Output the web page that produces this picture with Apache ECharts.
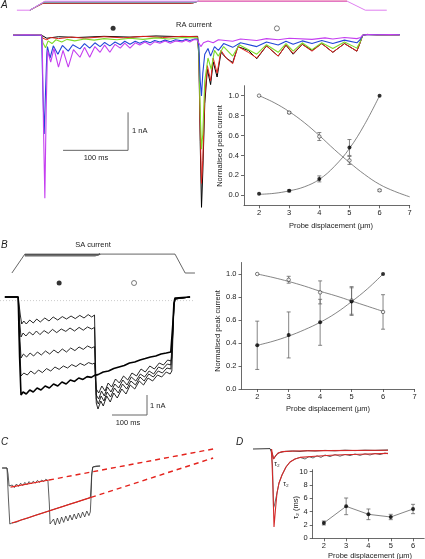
<!DOCTYPE html>
<html><head><meta charset="utf-8">
<script src="https://cdn.jsdelivr.net/npm/echarts@6/dist/echarts.min.js"></script>
<style>html,body{margin:0;padding:0;background:#fff}#c{width:425px;height:559px}</style>
</head><body><div id="c"></div>
<script>
// ---------- summary data (normalised peak current vs probe displacement) ----------
const displacement = [2, 3, 4, 5, 6];
const raOpenMean = [1.0, 0.83, 0.59, 0.35, 0.05];
const raOpenErr  = [0, 0.01, 0.04, 0.04, 0.01];
const raFillMean = [0.015, 0.045, 0.165, 0.48, 1.0];
const raFillErr  = [0, 0.01, 0.03, 0.08, 0];
const fitX7 = [2, 2.5, 3, 3.5, 4, 4.5, 5, 5.5, 6, 6.5, 7];
const fitX6 = [2, 2.5, 3, 3.5, 4, 4.5, 5, 5.5, 6];
const raOpenFit = [1.0, 0.93, 0.84, 0.73, 0.60, 0.46, 0.33, 0.21, 0.11, 0.04, -0.015];
const raFillFit = [0.01, 0.02, 0.045, 0.085, 0.16, 0.29, 0.47, 0.71, 1.0];

const saOpenMean = [1.0, 0.95, 0.84, 0.77, 0.67];
const saOpenErr  = [0, 0.03, 0.10, 0.12, 0.15];
const saFillMean = [0.38, 0.47, 0.58, 0.76, 1.0];
const saFillErr  = [0.21, 0.20, 0.20, 0.12, 0];
const saOpenFit = [1.0, 0.97, 0.935, 0.895, 0.85, 0.81, 0.765, 0.72, 0.675];
const saFillFit = [0.38, 0.415, 0.46, 0.515, 0.58, 0.66, 0.76, 0.87, 1.0];

const tau2Mean = [2.3, 4.8, 3.6, 3.2, 4.4];
const tau2Err  = [0.3, 1.25, 0.8, 0.4, 0.7];

const unitTicks = [2, 3, 4, 5, 6, 7];
const unitTicksD = [2, 3, 4, 5, 6];
const normTicks = [0, 0.2, 0.4, 0.6, 0.8, 1.0];
const tauTicks = [0, 2, 4, 6, 8, 10];

// ---------- panel A traces (time ms, current nA) ----------
const raStimPurple = [[6,0],[26,0],[49,6],[514,6],[542,0],[575,0]];
const raStimRed    = [[26,0],[46,4.5],[275,4.5],[285,6],[514,6]];
const raStimBlack  = [[26,0],[46,4.9],[277,4.9],[285,6]];
const raStimGreen  = [[26,0],[47,5.25],[279,5.25],[285,6]];
const raStimBlue   = [[26,0],[48,5.6],[281,5.6],[285,6]];

const raBlack = [[0,0],[44,0],[46,-0.05],[52,-0.08],[70,-0.04],[100,-0.06],[140,-0.03],[180,-0.05],[220,-0.02],[260,-0.04],[284,-0.03],
 [286,-0.6],[288,-2.8],[290,-4.53],[292,-3.6],[295,-1.8],[299,-0.9],[304,-1.3],[308,-0.7],[314,-1.1],[320,-0.45],[328,-0.6],[338,-0.72],[346,-0.3],[362,-0.4],[375,-0.62],[390,-0.28],[408,-0.55],[420,-0.26],[431,-0.5],[445,-0.24],[460,-0.4],[475,-0.22],[492,-0.45],[510,-0.22],[529,-0.42],[534,-0.2],[538,0],[545,0.02],[560,0.01],[595,0.01]];
const raRed = [[0,0],[44,0],[46,-0.08],[52,-0.12],[58,-0.06],[70,-0.09],[90,-0.05],[110,-0.08],[140,-0.04],[170,-0.07],[200,-0.03],[230,-0.06],[260,-0.03],[284,-0.04],
 [286,-0.5],[288,-2.5],[290,-3.9],[292,-3.3],[295,-1.6],[299,-0.8],[304,-1.2],[308,-0.6],[314,-1.0],[320,-0.4],[328,-0.6],[338,-0.75],[346,-0.3],[362,-0.45],[375,-0.6],[390,-0.28],[408,-0.55],[420,-0.26],[431,-0.48],[445,-0.24],[460,-0.42],[475,-0.22],[492,-0.45],[510,-0.22],[529,-0.42],[534,-0.2],[538,0],[545,0.02],[560,0.01],[595,0.01]];
const raGreen = [[0,0],[44,0],[46,-0.2],[50,-0.33],[54,-0.15],[60,-0.22],[66,-0.12],[75,-0.18],[83,-0.11],[95,-0.15],[110,-0.1],[125,-0.13],[140,-0.09],[160,-0.12],[180,-0.08],[200,-0.11],[220,-0.07],[240,-0.1],[260,-0.06],[284,-0.07],
 [286,-0.5],[288,-2.0],[290,-3.0],[292,-2.6],[295,-1.2],[300,-0.6],[305,-0.9],[310,-0.4],[316,-0.55],[324,-0.3],[338,-0.55],[348,-0.25],[375,-0.5],[390,-0.25],[408,-0.45],[420,-0.22],[431,-0.42],[445,-0.2],[460,-0.38],[475,-0.2],[492,-0.35],[510,-0.18],[529,-0.34],[534,-0.18],[538,0],[545,0.02],[560,0.01],[595,0.01]];
const raBlue = [[0,0],[44,0],[46,-1.5],[48,-2.6],[50,-1.5],[52,-0.5],[53,-0.3],[57,-0.6],[62,-0.28],[69,-0.5],[76,-0.27],[85,-0.42],[92,-0.25],[103,-0.36],[110,-0.22],[118,-0.34],[126,-0.2],[134,-0.3],[141,-0.19],[149,-0.28],[157,-0.18],[165,-0.25],[172,-0.16],[180,-0.24],[188,-0.16],[195,-0.21],[203,-0.15],[211,-0.2],[218,-0.14],[226,-0.18],[234,-0.13],[242,-0.17],[250,-0.12],[260,-0.15],[266,-0.11],[272,-0.14],[280,-0.1],[284,-0.1],
 [286,-0.3],[288,-1.2],[290,-1.6],[292,-1.0],[295,-0.5],[300,-0.35],[304,-0.55],[310,-0.3],[316,-0.4],[324,-0.22],[338,-0.32],[350,-0.2],[375,-0.3],[390,-0.18],[408,-0.26],[420,-0.16],[431,-0.24],[445,-0.15],[460,-0.22],[475,-0.14],[492,-0.22],[510,-0.13],[529,-0.2],[534,-0.12],[538,0],[545,0.02],[560,0.01],[595,0.01]];
const raPurple = [[0,0],[20,0.01],[44,0],[45,-0.2],[47,-2.5],[49,-4.29],[51,-2.0],[53,-0.4],[58,-0.71],[63,-0.35],[70,-0.84],[77,-0.4],[85,-0.84],[93,-0.38],[103,-0.58],[110,-0.32],[118,-0.58],[126,-0.3],[134,-0.45],[141,-0.26],[149,-0.45],[157,-0.24],[165,-0.34],[172,-0.21],[180,-0.34],[188,-0.2],[195,-0.26],[203,-0.18],[211,-0.26],[218,-0.17],[226,-0.21],[234,-0.15],[242,-0.21],[250,-0.15],[260,-0.18],[266,-0.13],[272,-0.18],[278,-0.12],[283,-0.12],
 [286,-0.12],[289,-0.3],[293,-0.2],[300,-0.15],[308,-0.2],[316,-0.12],[338,-0.16],[350,-0.1],[375,-0.14],[390,-0.09],[408,-0.12],[425,-0.08],[460,-0.11],[480,-0.07],[492,-0.1],[510,-0.06],[529,-0.09],[535,-0.06],[538,0],[545,0.02],[560,0.01],[580,0.02],[595,0.01]];
const raScaleBar = [[177,-2.03],[177,-3.03],[77,-3.03]];
const raMarkFill = [[154,0.18]];
const raMarkOpen = [[406,0.18]];

// ---------- panel B traces ----------
const saStim = [[34,0],[37,0],[71,6.3],[500,6.3],[529,0],[557,0]];
const saStimBand1 = [[71,5.7],[271,5.7],[286,6.3]];
const saStimBand2 = [[71,5.9],[276,5.9],[286,6.3]];
const saStimBand3 = [[71,6.1],[280,6.1],[286,6.3]];
const saT1 = [[14,0],[52,0],[58,-0.9],[62,-1.35],[68,-1.2],[75,-1.35],[85,-1.15],[95,-1.3],[105,-1.1],[115,-1.25],[128,-1.05],[140,-1.2],[152,-1.0],[165,-1.15],[178,-0.98],[190,-1.1],[203,-0.95],[215,-1.08],[228,-0.92],[240,-1.05],[252,-0.88],[262,-1.0],[270,-0.9],
 [272,-2.5],[275,-5.3],[280,-5.6],[288,-5.2],[295,-5.45],[305,-4.95],[315,-5.25],[325,-4.8],[335,-5.05],[348,-4.6],[360,-4.85],[372,-4.4],[385,-4.6],[398,-4.2],[410,-4.4],[423,-4.05],[436,-4.2],[450,-3.9],[462,-4.0],[475,-3.75],[486,-3.85],[491,-3.7],[494,-2],[497,-0.5],[500,-0.1],[505,0],[543,0]];
const saT2 = [[14,0],[52,0],[56,-1.2],[60,-2.0],[66,-1.8],[74,-1.95],[84,-1.75],[94,-1.9],[104,-1.7],[114,-1.88],[126,-1.68],[138,-1.82],[150,-1.62],[162,-1.78],[175,-1.6],[188,-1.72],[200,-1.55],[213,-1.7],[226,-1.52],[238,-1.66],[250,-1.5],[262,-1.6],[270,-1.52],
 [272,-3],[275,-5.1],[281,-5.35],[289,-4.95],[297,-5.2],[306,-4.75],[316,-5.0],[327,-4.55],[338,-4.8],[350,-4.35],[362,-4.6],[374,-4.2],[387,-4.4],[400,-4.0],[412,-4.2],[425,-3.85],[438,-4.0],[452,-3.7],[464,-3.8],[477,-3.55],[488,-3.6],[491,-3.5],[494,-1.8],[497,-0.5],[500,-0.1],[505,0],[543,0]];
const saT3 = [[14,0],[52,0],[56,-1.8],[60,-3.05],[67,-2.85],[76,-3.0],[86,-2.8],[96,-2.95],[107,-2.75],[118,-2.9],[130,-2.7],[142,-2.85],[154,-2.65],[166,-2.8],[178,-2.6],[190,-2.75],[202,-2.55],[214,-2.68],[226,-2.5],[238,-2.62],[250,-2.45],[262,-2.55],[270,-2.48],
 [272,-3.5],[275,-4.9],[282,-5.1],[290,-4.7],[298,-4.95],[307,-4.5],[317,-4.75],[328,-4.35],[339,-4.55],[351,-4.15],[363,-4.4],[375,-4.0],[388,-4.2],[401,-3.85],[413,-4.0],[426,-3.7],[439,-3.85],[453,-3.5],[465,-3.6],[478,-3.35],[488,-3.4],[491,-3.3],[494,-1.6],[497,-0.4],[500,-0.1],[505,0],[543,0]];
const saT4 = [[14,0],[52,0],[56,-2.4],[60,-3.95],[68,-3.8],[78,-3.9],[88,-3.7],[99,-3.85],[110,-3.65],[121,-3.78],[133,-3.58],[145,-3.7],[157,-3.5],[169,-3.62],[181,-3.45],[193,-3.55],[205,-3.38],[217,-3.48],[229,-3.32],[241,-3.42],[253,-3.28],[264,-3.35],[270,-3.3],
 [272,-4.0],[275,-4.6],[282,-4.8],[291,-4.45],[300,-4.7],[309,-4.3],[319,-4.5],[330,-4.1],[341,-4.3],[353,-3.95],[365,-4.15],[377,-3.8],[390,-3.95],[403,-3.6],[415,-3.75],[428,-3.45],[441,-3.6],[455,-3.3],[467,-3.4],[479,-3.15],[488,-3.2],[491,-3.05],[494,-1.5],[497,-0.4],[500,-0.1],[505,0],[543,0]];
const saT5 = [[14,0],[52,0],[56,-3.0],[60,-4.9],[66,-4.75],[75,-4.85],[85,-4.65],[95,-4.75],[106,-4.55],[117,-4.65],[129,-4.45],[141,-4.55],[153,-4.35],[165,-4.45],[177,-4.25],[189,-4.35],[201,-4.15],[213,-4.22],[225,-4.05],[237,-4.12],[249,-3.98],[261,-4.02],[270,-3.92],
 [272,-3.9],[280,-3.88],[295,-3.75],[310,-3.7],[325,-3.58],[340,-3.5],[355,-3.42],[370,-3.3],[385,-3.25],[400,-3.15],[415,-3.08],[430,-3.0],[445,-2.95],[460,-2.85],[475,-2.8],[488,-2.75],[491,-2.7],[494,-1.3],[497,-0.3],[500,-0.05],[505,0],[543,0]];
const saZero = [[0,-0.18],[557,-0.18]];
const saScaleBar = [[420,-4.9],[420,-5.9],[320,-5.9]];
const saMarkFill = [[169,0.7]];
const saMarkOpen = [[383,0.7]];

// ---------- panel C traces ----------
const cTrace1 = [[6,0],[20,0],[23,-0.3],[26,-0.9],[30,-1.0],[35,-0.85],[41,-0.98],[47,-0.8],[53,-0.92],[59,-0.76],[65,-0.88],[71,-0.72],[77,-0.84],[83,-0.68],[89,-0.8],[95,-0.66],[101,-0.76],[107,-0.62],[113,-0.72],[119,-0.6],[125,-0.68],[131,-0.56],[137,-0.64],[139,-0.6],
 [141,-1.8],[143,-2.8],[148,-2.9],[153,-2.55],[158,-2.85],[164,-2.5],[170,-2.8],[176,-2.45],[182,-2.72],[188,-2.4],[194,-2.65],[200,-2.35],[206,-2.6],[212,-2.3],[218,-2.55],[224,-2.25],[230,-2.5],[236,-2.2],[242,-2.45],[248,-2.15],[254,-2.38],[258,-2.2],[260,-1.5],[262,-0.4],[265,0.05],[275,0.1],[286,0.1]];
const cTrace2 = [[6,0],[20,0],[24,-1.5],[28,-2.8],[34,-2.75],[48,-2.7],[60,-2.6],[80,-2.5],[100,-2.37],[120,-2.26],[139,-2.15],[160,-2.03],[180,-1.92],[200,-1.8],[220,-1.7],[240,-1.58],[258,-1.48],[260,-1.0],[262,-0.3],[265,0.05],[286,0.1]];
const cFit1Solid = [[30,-0.96],[140,-0.6]];
const cFit1Dash  = [[140,-0.6],[609,0.95]];
const cFit2Solid = [[34,-2.75],[260,-1.47]];
const cFit2Dash  = [[260,-1.47],[609,0.5]];

// ---------- panel D traces ----------
const dSmall = [[6,0],[40,0.02],[43,0],[45,-0.25],[47,-0.5],[50,-0.4],[54,-0.25],[60,-0.17],[70,-0.12],[85,-0.1],[100,-0.12],[115,-0.08],[130,-0.1],[150,-0.07],[170,-0.09],[190,-0.06],[210,-0.08],[230,-0.06],[250,-0.07],[276,-0.05]];
const dLarge = [[42,0],[45,-0.8],[47,-2.95],[49,-2.8],[54,-2.2],[58,-1.7],[64,-1.3],[72,-0.9],[80,-0.65],[90,-0.5],[100,-0.42],[110,-0.5],[118,-0.38],[126,-0.45],[134,-0.34],[142,-0.42],[150,-0.3],[160,-0.38],[170,-0.28],[180,-0.36],[190,-0.27],[200,-0.33],[210,-0.25],[220,-0.32],[230,-0.24],[240,-0.3],[250,-0.22],[260,-0.28],[270,-0.2],[276,-0.24]];
const dFitLarge = [[43,0],[46,-2.0],[48,-3.9],[51,-3.0],[54,-2.2],[58,-1.7],[64,-1.3],[72,-0.9],[80,-0.65],[90,-0.5],[100,-0.42],[130,-0.36],[170,-0.3],[220,-0.26],[276,-0.22]];
const dFitSmall = [[43,0],[45,-0.3],[47,-0.5],[51,-0.35],[56,-0.2],[65,-0.13],[90,-0.1],[150,-0.08],[276,-0.06]];

// ---------- build chart ----------
const FONT = 'Liberation Sans';
const AX = '#444';
const grids = [
  {left:13, top:0, width:390, height:12},          // 0 A stim
  {left:13, top:20, width:390, height:190},        // 1 A traces
  {left:244, top:85.7, width:165.7, height:119.6}, // 2 A chart
  {left:0, top:250, width:196, height:26},         // 3 B stim
  {left:0, top:262, width:196, height:170},        // 4 B traces
  {left:241.5, top:262.5, width:173, height:126.5},// 5 B chart
  {left:0, top:445, width:227.5, height:100},      // 6 C traces
  {left:250, top:444, width:140, height:86},       // 7 D traces
  {left:312.7, top:469.7, width:111.5, height:68.6}// 8 D chart
].map(g => Object.assign({outerBoundsMode:'none', containLabel:false}, g));

function hid(gi, min, max) { return {type:'value', gridIndex:gi, min, max, show:false}; }
function chartAxis(gi, min, max, ticks, fmt, margin) {
  return {type:'value', gridIndex:gi, min, max,
    axisLine:{show:true, onZero:false, lineStyle:{color:AX, width:0.8}},
    axisTick:{show:true, length:3, customValues:ticks, lineStyle:{color:AX, width:0.8}},
    axisLabel:{show:true, customValues:ticks, fontSize:7.5, color:'#222', fontFamily:FONT, margin:margin, formatter:fmt},
    splitLine:{show:false}};
}
const xAxes = [hid(0,0,600), hid(1,0,600), chartAxis(2,1.5,7,unitTicks,v=>String(v),4),
  hid(3,0,560), hid(4,0,560), chartAxis(5,1.5,7,unitTicks,v=>String(v),4),
  hid(6,0,650), hid(7,0,280), chartAxis(8,1.5,6.5,unitTicksD,v=>String(v),4)];
const yAxes = [hid(0,-1.2,6.8), hid(1,-4.6,0.4), chartAxis(2,-0.1,1.1,normTicks,v=>v.toFixed(1),5),
  hid(3,-1,7.67), hid(4,-6.75,1.75), chartAxis(5,0,1.1,normTicks,v=>v.toFixed(1),5),
  hid(6,-3.85,1.15), hid(7,-4.05,0.25), chartAxis(8,0,10.3,tauTicks,v=>String(v),5)];

function line(gi, data, color, w, extra) {
  return Object.assign({type:'line', xAxisIndex:gi, yAxisIndex:gi, data, showSymbol:false, symbol:'none',
    lineStyle:{color, width:w}, silent:true, animation:false, z:2}, extra || {});
}
function pts(xs, ys) { return xs.map((x,i)=>[x, ys[i]]); }
function errData(xs, m, e) { return xs.map((x,i)=>[x, m[i]-e[i], m[i]+e[i]]).filter((d,i)=>e[i]>0); }
function errSeries(gi, data) {
  return {type:'custom', xAxisIndex:gi, yAxisIndex:gi, data, silent:true, animation:false, z:3,
    renderItem:(params, api) => {
      const x = api.value(0), lo = api.value(1), hi = api.value(2);
      const a = api.coord([x, hi]), b = api.coord([x, lo]);
      const st = {stroke:'#666', lineWidth:0.8};
      return {type:'group', children:[
        {type:'line', shape:{x1:a[0], y1:a[1], x2:b[0], y2:b[1]}, style:st},
        {type:'line', shape:{x1:a[0]-2, y1:a[1], x2:a[0]+2, y2:a[1]}, style:st},
        {type:'line', shape:{x1:b[0]-2, y1:b[1], x2:b[0]+2, y2:b[1]}, style:st}]};
    }};
}
function scat(gi, data, open, size) {
  return {type:'scatter', xAxisIndex:gi, yAxisIndex:gi, data, symbol:'circle', symbolSize:size, silent:true, animation:false, z:5,
    itemStyle: open ? {color:'#fff', borderColor:'#333', borderWidth:0.8} : {color:'#000'}};
}

const RED = '#e4231d', GREEN = '#7ddb2a', BLUE = '#2346d8', PURPLE = '#c53ef0', STIMP = '#df7ff0';
const series = [
  // A stimulus
  line(0, raStimRed, RED, 1), line(0, raStimBlack, '#555', 1), line(0, raStimGreen, '#8ab', 1), line(0, raStimBlue, '#79a', 1),
  line(0, raStimPurple, STIMP, 1),
  // A traces
  line(1, raBlack, '#000', 1), line(1, raRed, RED, 1), line(1, raGreen, GREEN, 1.1), line(1, raBlue, BLUE, 1.1), line(1, raPurple, PURPLE, 1.1),
  line(1, raScaleBar, '#666', 1),
  scat(1, raMarkFill, false, 5), scat(1, raMarkOpen, true, 5),
  // A chart
  line(2, pts(fitX7, raOpenFit), '#666', 0.8, {smooth:0.4}),
  line(2, pts(fitX6, raFillFit), '#666', 0.8, {smooth:0.4}),
  errSeries(2, errData(displacement, raOpenMean, raOpenErr)),
  errSeries(2, errData(displacement, raFillMean, raFillErr)),
  scat(2, pts(displacement, raOpenMean), true, 3.5), scat(2, pts(displacement, raFillMean), false, 4),
  // B stimulus
  line(3, saStimBand1, '#666', 1.2), line(3, saStimBand2, '#777', 1.2), line(3, saStimBand3, '#555', 1.2),
  line(3, saStim, '#555', 0.9),
  // B traces
  line(4, saZero, '#aaa', 0.6, {lineStyle:{color:'#aaa', width:0.6, type:[1,2]}}),
  line(4, saT1, '#111', 0.9), line(4, saT2, '#111', 0.9), line(4, saT3, '#111', 0.9), line(4, saT4, '#111', 0.9), line(4, saT5, '#000', 1.6),
  line(4, saScaleBar, '#666', 1),
  scat(4, saMarkFill, false, 5), scat(4, saMarkOpen, true, 5),
  // B chart
  line(5, pts(fitX6, saOpenFit), '#666', 0.8, {smooth:0.4}),
  line(5, pts(fitX6, saFillFit), '#666', 0.8, {smooth:0.4}),
  errSeries(5, errData(displacement, saOpenMean, saOpenErr)),
  errSeries(5, errData(displacement, saFillMean, saFillErr)),
  scat(5, pts(displacement, saOpenMean), true, 3.5), scat(5, pts(displacement, saFillMean), false, 4),
  // C traces
  line(6, cTrace1, '#333', 0.8), line(6, cTrace2, '#333', 0.8),
  line(6, cFit1Solid, RED, 1.2), line(6, cFit2Solid, RED, 1.2),
  line(6, cFit1Dash, RED, 1.4, {lineStyle:{color:RED, width:1.4, type:[5,4]}}),
  line(6, cFit2Dash, RED, 1.4, {lineStyle:{color:RED, width:1.4, type:[5,4]}}),
  // D traces
  line(7, dSmall, '#222', 0.9), line(7, dLarge, '#444', 0.8),
  line(7, dFitLarge, '#d42a2a', 1.1), line(7, dFitSmall, '#d42a2a', 1.1),
  // D chart
  line(8, pts(displacement, tau2Mean), '#666', 0.8),
  errSeries(8, errData(displacement, tau2Mean, tau2Err)),
  scat(8, pts(displacement, tau2Mean), false, 4)
];

function T(x, y, text, o) {
  o = o || {};
  return {type:'text', x, y, rotation:o.rot || 0, silent:true, z:10,
    style:{text, fill:'#222', font:(o.italic?'italic ':'') + (o.size||7.5) + 'px "' + FONT + '"',
      align:o.align || 'center', verticalAlign:'middle'}};
}
const R = Math.PI / 2;
const graphic = [
  T(1, 5, 'A', {align:'left', italic:true, size:10}),
  T(194, 25, 'RA current'),
  T(132, 131, '1 nA', {align:'left'}),
  T(96, 158, '100 ms'),
  T(219.5, 146, 'Normalised peak current', {rot:R}),
  T(331, 226, 'Probe displacement (µm)'),
  T(1, 245, 'B', {align:'left', italic:true, size:10}),
  T(93, 245, 'SA current'),
  T(150, 406, '1 nA', {align:'left'}),
  T(128, 423, '100 ms'),
  T(217.5, 331, 'Normalised peak current', {rot:R}),
  T(328, 408.5, 'Probe displacement (µm)'),
  T(1, 442, 'C', {align:'left', italic:true, size:10}),
  T(236, 442, 'D', {align:'left', italic:true, size:10}),
  T(277, 464, 'τ₂', {size:7}),
  T(286, 484, 'τ₂', {size:7}),
  T(295.5, 507.5, 'τ₂ (ms)', {rot:R}),
  T(370, 556, 'Probe displacement (µm)')
];

const chart = echarts.init(document.getElementById('c'), null, {renderer:'canvas'});
chart.setOption({animation:false, backgroundColor:'#fff', grid:grids, xAxis:xAxes, yAxis:yAxes, series, graphic});
</script></body></html>
